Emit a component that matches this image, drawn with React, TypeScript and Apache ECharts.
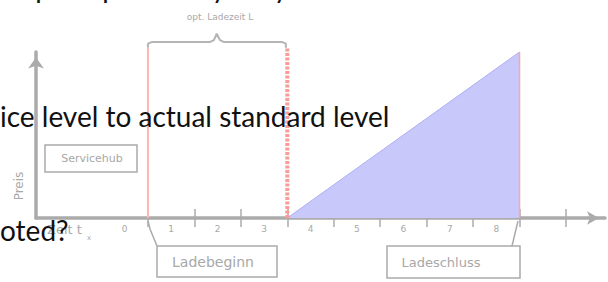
import React, { useEffect, useRef } from "react";
import * as echarts from "echarts";

// ---- data ----
const xTickValues = [0, 1, 2, 3, 4, 5, 6, 7, 8, 9];
const xLabelValues = [-0.5, 0.5, 1.5, 2.5, 3.5, 4.5, 5.5, 6.5, 7.5];
const xTickLabels = ["0", "1", "2", "3", "4", "5", "6", "7", "8"];
const rampX = [3, 8];
const rampY = [0, 10];
const chargeStartX = 0; // Ladebeginn
const optEndX = 3; // Ende opt. Ladezeit
const chargeEndX = 8; // Ladeschluss
const markerTop = 10.25;
const braceX = [0, 0, 0.08, 1.33, 1.42, 1.48, 1.55, 1.64, 2.89, 2.97, 2.97];
const braceY = [10.25, 10.5, 10.6, 10.6, 10.72, 11.1, 10.72, 10.6, 10.6, 10.5, 10.25];

const GRAY = "#ababab";
const LABEL = "#a8a8a8";
const OVER = "28px Lato";

export default function App() {
  const ref = useRef<HTMLDivElement>(null);
  useEffect(() => {
    document.body.style.margin = "0";
    const chart = echarts.init(ref.current!, null, { renderer: "svg" });
    const xMin = -2.41;
    const xMax = 9.84;
    const ramp = rampX.map((x, i) => [x, rampY[i]]);
    const brace = braceX.map((x, i) => [x, braceY[i]]);
    chart.setOption({
      animation: false,
      grid: { left: 36, right: 3, top: 52, bottom: 64, containLabel: false },
      xAxis: [
        {
          type: "value",
          position: "bottom",
          min: xMin,
          max: xMax,
          splitLine: { show: false },
          axisLine: {
            show: true,
            onZero: false,
            symbol: ["none", "arrow"],
            symbolSize: [10, 12],
            symbolOffset: [0, -6],
            lineStyle: { color: GRAY, width: 3.5 },
          },
          axisTick: {
            show: true,
            customValues: xTickValues,
            length: 9,
            lineStyle: { color: GRAY, width: 1.5 },
          },
          axisLabel: {
            show: true,
            customValues: xLabelValues,
            margin: 6,
            color: LABEL,
            fontSize: 9,
            fontFamily: "DejaVu Sans",
            formatter: (v: number) => xTickLabels[Math.round(v + 0.5)] ?? "",
          },
        },
        {
          type: "value",
          position: "bottom",
          min: xMin,
          max: xMax,
          splitLine: { show: false },
          axisLine: { show: false },
          axisTick: {
            show: true,
            inside: true,
            customValues: xTickValues,
            length: 9,
            lineStyle: { color: GRAY, width: 1.5 },
          },
          axisLabel: { show: false },
        },
      ],
      yAxis: {
        type: "value",
        min: 0,
        max: 10,
        splitLine: { show: false },
        axisTick: { show: false },
        axisLabel: { show: false },
        axisLine: {
          show: true,
          onZero: false,
          symbol: ["none", "arrow"],
          symbolSize: [12, 11],
          symbolOffset: [0, -5.5],
          lineStyle: { color: GRAY, width: 3.5 },
        },
      },
      series: [
        {
          type: "line",
          data: ramp,
          symbol: "none",
          lineStyle: { color: "#adadf5", width: 1 },
          areaStyle: { color: "#c8c8fa", opacity: 1 },
          z: 1,
        },
        {
          type: "line",
          data: [[chargeStartX, 0], [chargeStartX, markerTop]],
          symbol: "none",
          clip: false,
          lineStyle: { color: "#ffb6b6", width: 2 },
          z: 2,
        },
        {
          type: "line",
          data: [[optEndX, 0], [optEndX, markerTop]],
          symbol: "none",
          clip: false,
          lineStyle: { color: "#ff9a9a", width: 4, type: [3, 1.5] },
          z: 2,
        },
        {
          type: "line",
          data: [[chargeEndX, 0], [chargeEndX, rampY[1]]],
          symbol: "none",
          clip: false,
          lineStyle: { color: "#ffa4a4", width: 1.5 },
          z: 2,
        },
        {
          type: "line",
          data: brace,
          symbol: "none",
          clip: false,
          lineStyle: { color: "#b4b4b4", width: 2 },
          z: 3,
        },
      ],
      graphic: [
        { type: "text", style: { text: "opt. Ladezeit L", x: 220, y: 17, fill: LABEL, font: "9px DejaVu Sans", textAlign: "center", textVerticalAlign: "middle" } },
        { type: "rect", shape: { x: 45, y: 145, width: 92, height: 27 }, style: { fill: "none", stroke: GRAY, lineWidth: 1.5 } },
        { type: "text", style: { text: "Servicehub", x: 92, y: 158, fill: LABEL, font: "11px DejaVu Sans", textAlign: "center", textVerticalAlign: "middle" } },
        { type: "rect", shape: { x: 417, y: 145, width: 92, height: 27 }, style: { fill: "none", stroke: GRAY, lineWidth: 1.5 } },
        { type: "text", style: { text: "Trade", x: 461, y: 158, fill: "#999", font: "10px DejaVu Sans", textAlign: "center", textVerticalAlign: "middle" } },
        { type: "polyline", shape: { points: [[148, 221], [150, 229], [157, 246]] }, style: { stroke: GRAY, lineWidth: 1.5, fill: "none" } },
        { type: "rect", shape: { x: 157, y: 246, width: 120, height: 31 }, style: { fill: "none", stroke: GRAY, lineWidth: 1.5 } },
        { type: "text", style: { text: "Ladebeginn", x: 213, y: 262, fill: LABEL, font: "14px DejaVu Sans", textAlign: "center", textVerticalAlign: "middle" } },
        { type: "polyline", shape: { points: [[518, 221], [512, 246]] }, style: { stroke: GRAY, lineWidth: 1.5, fill: "none" } },
        { type: "rect", shape: { x: 387, y: 246, width: 133, height: 32 }, style: { fill: "none", stroke: GRAY, lineWidth: 1.5 } },
        { type: "text", style: { text: "Ladeschluss", x: 441, y: 262, fill: LABEL, font: "13px DejaVu Sans", textAlign: "center", textVerticalAlign: "middle" } },
        { type: "text", rotation: Math.PI / 2, x: 19, y: 186, style: { text: "Preis", x: 0, y: 0, fill: LABEL, font: "12px DejaVu Sans", textAlign: "center", textVerticalAlign: "middle" } },
        { type: "text", style: { text: "Zeit t", x: 47, y: 229, fill: LABEL, font: "13px DejaVu Sans", textAlign: "left", textVerticalAlign: "middle" } },
        { type: "text", style: { text: "x", x: 87, y: 238, fill: LABEL, font: "7px DejaVu Sans", textAlign: "left", textVerticalAlign: "middle" } },
        // overlay slide text
        { type: "text", z: 100, style: { text: "ice level to actual standard level", x: 0, y: 116, fill: "#111", font: OVER, textAlign: "left", textVerticalAlign: "middle" } },
        { type: "text", z: 100, style: { text: "oted?", x: 0, y: 230, fill: "#111", font: OVER, textAlign: "left", textVerticalAlign: "middle" } },
        { type: "text", z: 100, style: { text: "p", x: 43, y: -13, fill: "#111", font: OVER, textAlign: "center", textVerticalAlign: "middle" } },
        { type: "text", z: 100, style: { text: "p", x: 110, y: -13, fill: "#111", font: OVER, textAlign: "center", textVerticalAlign: "middle" } },
        { type: "text", z: 100, style: { text: "y", x: 219, y: -13, fill: "#111", font: OVER, textAlign: "center", textVerticalAlign: "middle" } },
        { type: "text", z: 100, style: { text: "y", x: 281, y: -13, fill: "#111", font: OVER, textAlign: "center", textVerticalAlign: "middle" } },
      ],
    });
    return () => chart.dispose();
  }, []);
  return <div ref={ref} style={{ width: 608, height: 282 }} />;
}
